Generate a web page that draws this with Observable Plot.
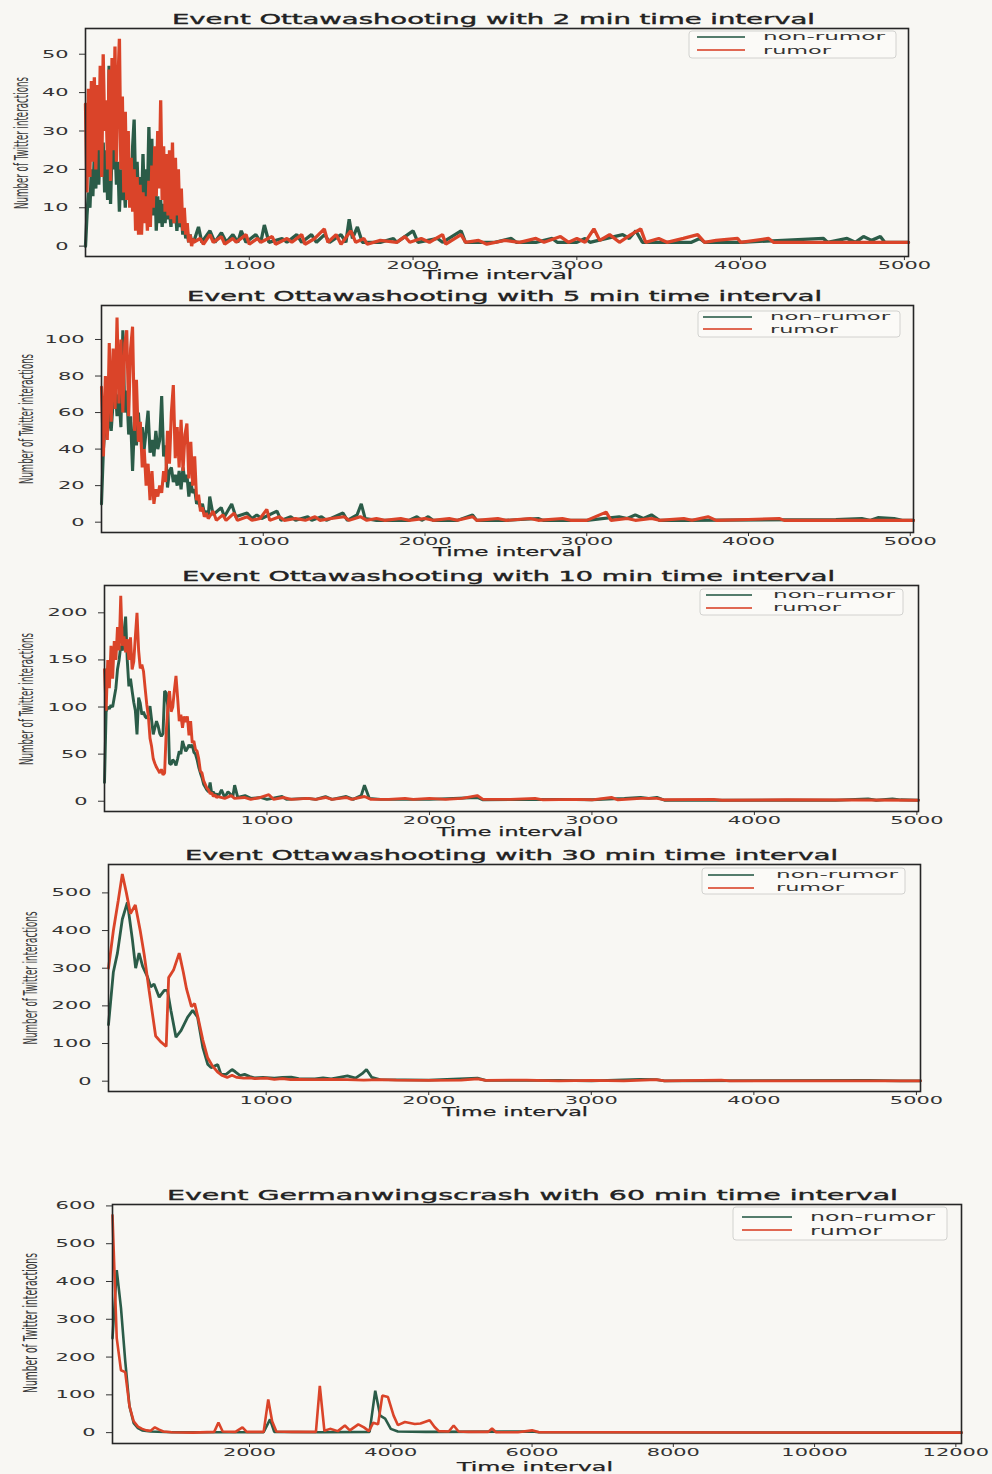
<!DOCTYPE html>
<html><head><meta charset="utf-8">
<script src="https://cdn.jsdelivr.net/npm/d3@7"></script>
<script src="https://cdn.jsdelivr.net/npm/@observablehq/plot@0.6"></script>
<style>
html,body{margin:0;padding:0;background:#f8f7f3;}
#page{position:relative;width:992px;height:1474px;overflow:hidden;background:#f8f7f3;font-family:"DejaVu Sans",sans-serif;}
#page svg{position:absolute;left:0;}
</style></head><body><div id="page"></div>
<script>
// ---------- text ----------
const titles = [
  "Event Ottawashooting with 2 min time interval",
  "Event Ottawashooting with 5 min time interval",
  "Event Ottawashooting with 10 min time interval",
  "Event Ottawashooting with 30 min time interval",
  "Event Germanwingscrash with 60 min time interval"
];
const seriesNames = ["non-rumor", "rumor"];
const xLabel = "Time interval";
const yLabel = "Number of Twitter interactions";

// ---------- tick values ----------
const xTicksOttawa = [1000, 2000, 3000, 4000, 5000];
const xTicksGerman = [2000, 4000, 6000, 8000, 10000, 12000];
const yTicks2 = [0, 10, 20, 30, 40, 50];
const yTicks5 = [0, 20, 40, 60, 80, 100];
const yTicks10 = [0, 50, 100, 150, 200];
const yTicks30 = [0, 100, 200, 300, 400, 500];
const yTicks60 = [0, 100, 200, 300, 400, 500, 600];

// ---------- panel 1: 2 min ----------
const p1T = [0,9,18,27,36,45,54,63,72,81,90,99,108,117,126,135,144,153,162,171,180,189,198,207,216,225,234,243,252,261,270,279,288,297,306,315,324,333,342,351,360,369,378,387,396,405,414,423,432,441,450,459,468,477,486,495,504,513,522,531,540,549,558,567,576,585,594,603,612,621,630,639,648,657];
const p1NonRumor = [0,8,14,10,20,13,24,15,27,16,26,18,27,14,25,12,47,11,26,20,27,16,22,9,20,12,18,10,22,13,20,12,26,33,14,22,12,18,9,24,10,20,12,31,14,28,8,20,4,13,6,12,5,11,6,13,7,9,5,12,6,10,4,9,5,8,3,6,2,4,1,3,1,2];
const p1Rumor = [37,14,41,18,43,22,44,20,42,25,47,18,50,30,38,20,46,17,49,25,52,22,42,54,20,39,14,35,12,30,10,23,9,20,4,18,3,16,3,14,6,13,4,17,5,21,10,26,13,30,15,38,12,26,9,24,8,25,7,27,6,23,8,20,6,15,4,10,3,6,1,3,0,2];
const p1NonRumorTail = [[660,1],[690,5],[710,1],[760,4],[790,1],[830,3.5],[860,1],[900,3],[930,1],[951,4],[980,1],[1040,3],[1070,1],[1092,5.5],[1120,1],[1200,2],[1230,1],[1290,3],[1320,1],[1380,3],[1410,1],[1460,3],[1490,1],[1560,3],[1590,1],[1610,7],[1630,2],[1660,5],[1690,1],[1800,1],[1880,2],[1900,1],[2000,4],[2030,1],[2150,2],[2180,1],[2293,4],[2320,1],[2500,1],[2600,2],[2630,1],[2750,1],[2850,2],[2880,1],[3000,1],[3050,2],[3080,1],[3280,3],[3320,2],[3360,4],[3400,1],[3700,1],[3750,2],[3780,1],[4000,1],[4506,2],[4530,1],[4650,2],[4700,1],[4750,2.5],[4800,1.5],[4853,2.5],[4880,1],[5025,1]];
const p1RumorTail = [[660,1],[700,2],[720,0.5],[760,3],[780,1],[830,2.5],[850,0.5],[900,2],[920,1],[980,3],[1000,0.5],[1050,2],[1070,1],[1140,2.5],[1160,0.5],[1230,2],[1260,1],[1320,3],[1340,0.5],[1400,2],[1458,4.5],[1480,1],[1530,3],[1560,0.5],[1620,4],[1650,1],[1700,2],[1720,0.5],[1800,1.5],[1900,1],[1950,2.5],[1980,1],[2050,2],[2100,1],[2180,3],[2200,0.5],[2293,3],[2320,1],[2400,1.5],[2450,0.5],[2560,1.5],[2650,1],[2750,2],[2800,1],[2900,2.5],[2950,1],[3000,2],[3050,1],[3104,4.5],[3140,1.5],[3200,3],[3260,1],[3330,3],[3390,4.5],[3420,1],[3500,2],[3550,1],[3650,2],[3738,3],[3780,1],[3850,1.5],[3982,2],[4000,1],[4171,2],[4200,1],[4500,1],[5025,1]];

// ---------- panel 2: 5 min ----------
const p2T = [0,12,24,36,48,60,72,84,96,108,120,132,144,156,168,180,192,204,216,228,240,252,264,276,288,300,312,324,336,348,360,372,384,396,408,420,432,444,456,468,480,492,504,516,528,540,552,564,576,588,600,612,624,636,648,660];
const p2NonRumor = [10,40,55,48,62,50,66,76,58,70,52,105,60,72,48,58,28,55,42,60,45,52,40,50,61,38,45,36,50,40,45,69,36,42,19,28,30,22,26,20,28,18,30,22,26,14,22,16,18,10,12,8,10,5,6,3];
const p2Rumor = [74,36,80,45,98,55,95,62,112,65,100,60,98,105,58,95,107,50,78,44,55,30,40,20,32,12,28,10,18,14,20,16,28,22,50,32,60,75,35,52,30,56,28,48,54,24,44,20,36,12,15,6,8,3,5,2];
const p2NonRumorTail = [[660,3],[669,14],[690,4],[740,8],[760,3],[805,10],[830,3],[900,5],[930,2],[960,4],[990,2],[1085,6],[1110,1],[1170,3],[1200,1],[1275,3],[1300,1],[1360,3],[1390,1],[1493,5],[1520,1],[1580,4],[1606,10],[1630,2],[1700,1],[1900,1],[1950,3],[1980,1],[2020,3],[2050,1],[2200,1],[2294,4],[2320,1],[2500,1],[2700,2],[2730,1],[3000,1],[3200,3],[3250,2],[3300,4],[3350,2],[3400,4],[3450,1],[3600,1],[4540,1.5],[4700,2],[4750,1],[4800,2.5],[4900,2],[4950,1],[5020,1]];
const p2RumorTail = [[660,2],[690,6],[710,1],[750,4],[770,1],[820,5],[840,1],[900,3],[930,1],[980,2],[1022,7],[1040,1],[1100,3],[1130,1],[1200,2],[1260,1],[1320,3],[1350,1],[1420,2],[1500,3],[1530,1],[1600,3],[1640,1],[1700,2],[1750,1],[1850,2],[1900,1],[2000,2],[2050,1],[2150,2],[2200,1],[2294,3],[2320,1],[2450,2],[2500,1],[2650,2],[2700,1],[2850,2],[2900,1],[3000,1],[3120,5.5],[3150,1],[3250,2],[3300,1],[3400,2],[3450,1],[3600,2],[3650,1],[3750,3],[3800,1],[4000,1.5],[4190,2],[4220,1],[5020,1]];

// ---------- panel 3: 10 min ----------
const p3T = [0,10,20,30,40,50,60,70,80,90,100,110,120,130,140,150,160,170,180,190,200,210,220,230,240,250,260,270,280,290,300,310,320,330,340,350,360,370,380,390,400,410,420,430,440,450,460,470,480,490,500,510,520,530,540,550,560,570,580,590,600,610,620,630,640,650,660,670,680,690,700];
const p3NonRumor = [20,95,100,98,102,100,110,120,140,150,165,160,180,196,150,122,130,117,105,96,71,110,104,92,95,90,88,92,101,86,71,78,85,80,72,69,72,117,115,100,40,39,44,42,38,45,53,50,64,58,53,56,60,57,60,52,50,44,36,30,25,18,15,12,10,20,8,10,6,8,5];
const p3Rumor = [140,96,150,120,165,130,170,150,185,160,218,165,175,158,172,150,174,140,148,175,200,160,141,145,138,120,103,90,67,58,45,40,36,33,30,34,28,30,74,100,117,95,100,118,133,110,85,92,78,90,84,90,70,85,62,64,55,53,45,32,30,22,18,14,12,8,9,5,7,4,5];
const p3NonRumorTail = [[720,12],[740,4],[760,10],[790,5],[801,17],[820,4],[865,6],[900,3],[960,4],[1000,2],[1093,5],[1120,2],[1250,3],[1300,2],[1360,5],[1400,2],[1488,5],[1530,2],[1580,6],[1600,17],[1630,3],[1700,2],[2000,2],[2294,4],[2330,1.5],[2800,2],[3000,1.5],[3200,3],[3300,4],[3350,3],[3400,4],[3450,1],[4500,1],[4700,2.5],[4750,1],[4850,2.5],[4900,1.5],[5010,1]];
const p3RumorTail = [[740,3],[780,6],[800,3],[860,4],[900,2],[960,4],[1012,7],[1040,2],[1100,4],[1150,2],[1250,3],[1300,2],[1360,4],[1400,2],[1488,4],[1520,2],[1600,5],[1640,2],[1750,2],[1850,3],[1900,2],[2000,3],[2100,2],[2200,3],[2294,6],[2330,2],[2500,2],[2650,3],[2700,1.5],[2900,2],[3000,1.5],[3120,4],[3160,1.5],[3300,3],[3400,3],[3450,1.5],[3750,2],[3800,1],[4200,1.5],[5010,1]];

// ---------- panel 4: 30 min ----------
const p4NonRumor = [[30,150],[60,290],[85,340],[115,430],[146,475],[177,376],[197,300],[218,340],[240,305],[270,277],[290,250],[310,258],[342,223],[373,241],[393,241],[414,188],[445,117],[476,134],[517,170],[548,188],[578,170],[610,90],[640,45],[661,36],[702,44],[722,18],[753,18],[790,31],[810,25],[840,15],[867,18],[900,12],[928,9],[980,10],[1050,8],[1100,10],[1154,11],[1200,7],[1300,6],[1350,9],[1400,6],[1500,14],[1550,8],[1590,20],[1617,31],[1650,10],[1700,4],[2000,3],[2300,8],[2350,2],[2800,2],[3000,1],[3300,5],[3400,4],[3450,1],[4700,2],[4900,1],[5025,1]];
const p4Rumor = [[30,300],[60,400],[90,480],[115,550],[140,500],[165,445],[195,468],[225,400],[250,335],[280,240],[300,180],[320,120],[350,105],[385,92],[400,275],[430,295],[465,340],[490,290],[510,245],[540,198],[560,206],[580,170],[610,110],[640,62],[670,40],[700,25],[730,15],[760,10],[790,16],[820,10],[860,8],[900,9],[930,7],[1000,8],[1050,5],[1100,7],[1150,4],[1200,5],[1300,4],[1400,5],[1500,4],[1600,3],[1700,4],[1800,3],[2000,2],[2200,3],[2300,6],[2350,2],[2600,3],[2800,1],[3000,2],[3200,1],[3400,4],[3450,1],[3800,3],[3850,1],[4200,1],[5025,1]];

// ---------- panel 5: 60 min (Germanwings) ----------
const p5NonRumor = [[60,250],[120,430],[180,330],[240,190],[300,70],[360,25],[420,12],[480,6],[600,3],[900,1],[2200,1],[2290,35],[2350,2],[3000,1],[3700,2],[3780,111],[3850,45],[3920,37],[4000,10],[4100,3],[4500,2],[6000,3],[6100,1],[12080,0]];
const p5Rumor = [[60,575],[120,250],[180,165],[240,160],[300,70],[360,30],[420,16],[480,10],[540,6],[600,5],[660,14],[720,8],[780,3],[900,1],[1200,0],[1500,2],[1560,27],[1620,3],[1800,2],[1900,14],[1960,2],[2200,2],[2265,88],[2320,30],[2380,3],[2600,2],[2940,2],[2995,124],[3060,5],[3140,10],[3250,4],[3350,19],[3420,6],[3540,22],[3620,14],[3690,4],[3750,26],[3820,22],[3880,98],[3960,94],[4040,45],[4100,20],[4200,28],[4340,23],[4420,24],[4550,33],[4620,15],[4680,4],[4820,3],[4890,19],[4960,3],[5100,2],[5380,2],[5433,11],[5490,1],[5800,1],[6000,6],[6100,1],[7000,1],[12080,0]];

// ---------- build ----------
const GREEN = "#2b5c48", RED = "#da4429";
const fromArrays = (t, v) => t.map((x, i) => ({x, y: v[i]}));
const fromPairs = p => p.map(([x, y]) => ({x, y}));

const panels = [
  {top: 0, h: 285, mt: 28, mb: 29, ml: 85, mr: 84, xd: [0, 5025], yd: [-2.7, 56.7], xt: xTicksOttawa, yt: yTicks2,
   non: fromArrays(p1T, p1NonRumor).concat(fromPairs(p1NonRumorTail)), rum: fromArrays(p1T, p1Rumor).concat(fromPairs(p1RumorTail)), sw: 3.3},
  {top: 285, h: 280, mt: 20, mb: 33, ml: 101, mr: 79, xd: [0, 5020], yd: [-5.65, 118.6], xt: xTicksOttawa, yt: yTicks5,
   non: fromArrays(p2T, p2NonRumor).concat(fromPairs(p2NonRumorTail)), rum: fromArrays(p2T, p2Rumor).concat(fromPairs(p2RumorTail)), sw: 3.1},
  {top: 565, h: 280, mt: 20, mb: 34, ml: 104, mr: 74, xd: [0, 5010], yd: [-10.9, 229], xt: xTicksOttawa, yt: yTicks10,
   non: fromArrays(p3T, p3NonRumor).concat(fromPairs(p3NonRumorTail)), rum: fromArrays(p3T, p3Rumor).concat(fromPairs(p3RumorTail)), sw: 2.9},
  {top: 845, h: 280, mt: 19, mb: 34, ml: 108, mr: 72, xd: [30, 5025], yd: [-27.4, 575.4], xt: xTicksOttawa, yt: yTicks30,
   non: fromPairs(p4NonRumor), rum: fromPairs(p4Rumor), sw: 2.8},
  {top: 1180, h: 294, mt: 24, mb: 31, ml: 112, mr: 31, xd: [60, 12080], yd: [-28.75, 603.75], xt: xTicksGerman, yt: yTicks60,
   non: fromPairs(p5NonRumor), rum: fromPairs(p5Rumor), sw: 2.6}
];

const page = document.getElementById("page");

panels.forEach(p => {
  const svg = Plot.plot({
    width: 992, height: p.h,
    marginTop: p.mt, marginBottom: p.mb, marginLeft: p.ml, marginRight: p.mr,
    style: {background: "transparent", fontFamily: "DejaVu Sans, sans-serif", fontSize: "11px", color: "#333", overflow: "visible"},
    x: {domain: p.xd, ticks: p.xt, tickFormat: "d", tickSize: 4, tickPadding: 1, label: null},
    y: {domain: p.yd, ticks: p.yt, tickSize: 6, tickPadding: 11, label: null},
    marks: [
      Plot.line(p.non, {x: "x", y: "y", stroke: GREEN, strokeWidth: p.sw, strokeLinejoin: "miter"}),
      Plot.line(p.rum, {x: "x", y: "y", stroke: RED, strokeWidth: p.sw, strokeLinejoin: "miter"}),
      Plot.frame({stroke: "#262626", strokeWidth: 1.6})
    ]
  });
  svg.style.top = p.top + "px";
  page.appendChild(svg);
  svg.querySelectorAll("text").forEach(t => {
    const w = t.getComputedTextLength();
    t.setAttribute("textLength", (w * 1.9).toFixed(1));
    t.setAttribute("lengthAdjust", "spacingAndGlyphs");
  });
});

// ---------- titles, axis labels, legends (overlay) ----------
const ov = d3.select(page).append("svg")
  .attr("width", 992).attr("height", 1474)
  .style("top", "0px").style("pointer-events", "none")
  .attr("font-family", "DejaVu Sans, sans-serif");

function stretched(x, y, str, len, fs, fill, anchor) {
  return ov.append("text").attr("x", x).attr("y", y)
    .attr("font-size", fs).attr("fill", fill || "#222")
    .attr("text-anchor", anchor || "start")
    .attr("textLength", len).attr("lengthAdjust", "spacingAndGlyphs")
    .text(str);
}

const titleLayout = [
  {x: 172, y: 24, len: 643}, {x: 187, y: 301, len: 635}, {x: 182, y: 581, len: 653},
  {x: 185, y: 860, len: 653}, {x: 167, y: 1200, len: 731}
];
titleLayout.forEach((l, i) => stretched(l.x, l.y, titles[i], l.len, 13.5)
  .attr("stroke", "#222").attr("stroke-width", 0.35));

const xLabelLayout = [
  {x: 423, y: 279, len: 150}, {x: 433, y: 556, len: 149}, {x: 437, y: 836, len: 146},
  {x: 442, y: 1116, len: 146}, {x: 457, y: 1471, len: 156}
];
xLabelLayout.forEach(l => stretched(l.x, l.y, xLabel, l.len, 12.5).attr("stroke", "#222").attr("stroke-width", 0.25));

const yLabelLayout = [
  {x: 28, y: 143, len: 132}, {x: 33, y: 419, len: 130}, {x: 33, y: 699, len: 132},
  {x: 37, y: 978, len: 133}, {x: 37, y: 1323, len: 140}
];
yLabelLayout.forEach(l => {
  ov.append("text")
    .attr("transform", `translate(${l.x},${l.y}) rotate(-90) scale(1,1.9)`)
    .attr("font-size", 10).attr("fill", "#3a3a3a").attr("text-anchor", "middle")
    .attr("textLength", l.len).attr("lengthAdjust", "spacingAndGlyphs")
    .text(yLabel);
});

const legendLayout = [
  {bx: 689, by: 31, bw: 207, bh: 27, l0: 697, l1: 745, gy: 37, ry: 50, tx: 763, gb: 40, rb: 54, gl: 122, rl: 68, fs: 10.5},
  {bx: 698, by: 311, bw: 202, bh: 26, l0: 703, l1: 752, gy: 317, ry: 329, tx: 770, gb: 320, rb: 333, gl: 120, rl: 68, fs: 10.5},
  {bx: 700, by: 589, bw: 203, bh: 26, l0: 706, l1: 752, gy: 595, ry: 608, tx: 773, gb: 598, rb: 611, gl: 122, rl: 68, fs: 10.5},
  {bx: 702, by: 868, bw: 203, bh: 26, l0: 708, l1: 754, gy: 875, ry: 888, tx: 776, gb: 878, rb: 891, gl: 122, rl: 68, fs: 10.5},
  {bx: 733, by: 1207, bw: 214, bh: 33, l0: 742, l1: 792, gy: 1217, ry: 1230, tx: 810, gb: 1221, rb: 1235, gl: 125, rl: 72, fs: 11.5}
];
legendLayout.forEach(l => {
  ov.append("rect").attr("x", l.bx).attr("y", l.by).attr("width", l.bw).attr("height", l.bh)
    .attr("rx", 3).attr("fill", "#fbfaf7").attr("fill-opacity", 0.85)
    .attr("stroke", "#d2d2cf").attr("stroke-width", 1);
  ov.append("line").attr("x1", l.l0).attr("x2", l.l1).attr("y1", l.gy).attr("y2", l.gy)
    .attr("stroke", GREEN).attr("stroke-width", 1.8).attr("stroke-opacity", 0.8);
  ov.append("line").attr("x1", l.l0).attr("x2", l.l1).attr("y1", l.ry).attr("y2", l.ry)
    .attr("stroke", RED).attr("stroke-width", 1.8).attr("stroke-opacity", 0.8);
  stretched(l.tx, l.gb, seriesNames[0], l.gl, l.fs, "#333");
  stretched(l.tx, l.rb, seriesNames[1], l.rl, l.fs, "#333");
});
</script></body></html>
